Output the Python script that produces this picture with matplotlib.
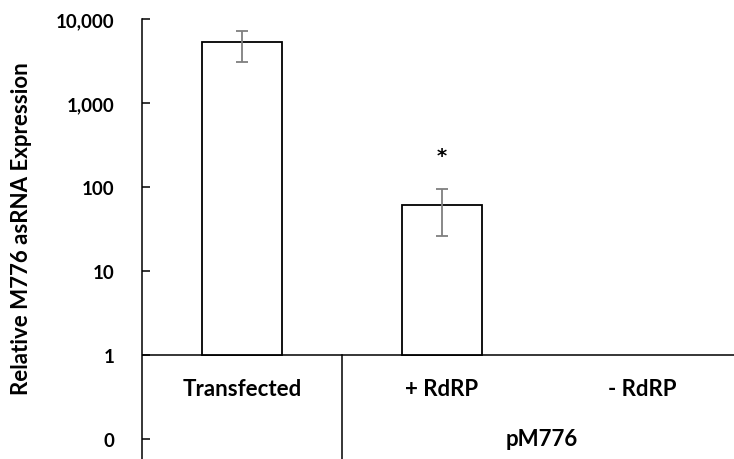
import matplotlib
matplotlib.use('Agg')
import matplotlib.pyplot as plt
from matplotlib.ticker import FixedLocator, FixedFormatter, NullLocator

# Data
categories = ['Transfected', '+ RdRP', '- RdRP']
values = [5300, 61.5, None]
err_low = [2250, 35.5, None]
err_high = [1900, 33.5, None]
group_label = 'pM776'
star_y = 240
ytick_vals = [0.1, 1, 10, 100, 1000, 10000]
ytick_labels = ['0', '1', '10', '100', '1,000', '10,000']

plt.rcParams['font.family'] = ['Lato', 'DejaVu Sans']
plt.rcParams['font.weight'] = 'bold'

fig = plt.figure(figsize=(7.34, 4.6), dpi=100)
ax = fig.add_axes([142 / 734, 0.0, 1 - 142 / 734, 1 - 20 / 460])
ax.set_yscale('log')
ax.set_ylim(10 ** (-1 - 20 / 84), 10000)
ax.set_xlim(-0.5, 2.46)

# Bars (bottom at 1, the category axis)
for i, v in enumerate(values):
    if v is None:
        continue
    ax.bar(i, v - 1, bottom=1, width=0.4, color='white', edgecolor='black', linewidth=1.3, zorder=2)
    ax.errorbar(i, v, yerr=[[err_low[i]], [err_high[i]]], fmt='none', ecolor='#7f7f7f',
                elinewidth=1.3, capsize=4.5, capthick=1.3, zorder=3)

ax.text(1, star_y, '*', ha='center', va='center', fontsize=14, fontweight='bold',
        family='DejaVu Sans')

# Category axis at y=1 and divider
ax.axhline(1, color='black', linewidth=1.1, zorder=1)
ax.plot([0.5, 0.5], [ax.get_ylim()[0], 1], color='black', linewidth=1.1, clip_on=False)

for i, c in enumerate(categories):
    ax.text(i, 0.394, c, ha='center', va='center', fontsize=16, fontweight='bold')
ax.text(1.5, 0.1, group_label, ha='center', va='center', fontsize=16, fontweight='bold')

# Y axis
ax.yaxis.set_major_locator(FixedLocator(ytick_vals))
ax.yaxis.set_major_formatter(FixedFormatter(ytick_labels))
ax.yaxis.set_minor_locator(NullLocator())
ax.tick_params(axis='y', direction='in', length=6, width=1.1, pad=20, labelsize=13.5)
ax.set_xticks([])
for s in ['top', 'right', 'bottom']:
    ax.spines[s].set_visible(False)
ax.spines['left'].set_linewidth(1.1)

fig.text(22 / 734, 1 - 229 / 460, 'Relative M776 asRNA Expression', rotation=90,
         ha='center', va='center', fontsize=16, fontweight='bold')

fig.savefig('out.png', dpi=100)
